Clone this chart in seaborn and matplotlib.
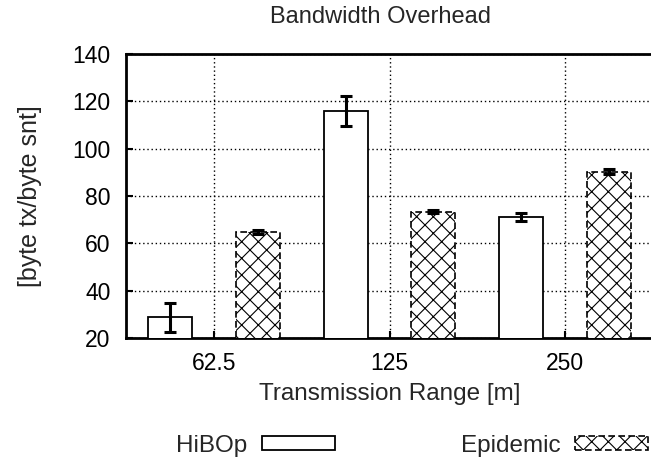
import matplotlib
matplotlib.use("Agg")
import matplotlib.pyplot as plt
import seaborn as sns
import pandas as pd
from matplotlib.patches import Patch

# Data
ranges = ["62.5", "125", "250"]
series = ["HiBOp", "Epidemic"]
hibop_mean = [28.7, 115.9, 71.2]
hibop_err = [6.0, 6.3, 1.8]
epidemic_mean = [64.9, 73.4, 90.3]
epidemic_err = [0.8, 0.7, 0.9]
yticks = [20, 40, 60, 80, 100, 120, 140]

df = pd.DataFrame({
    "range": ranges * 2,
    "protocol": [series[0]] * 3 + [series[1]] * 3,
    "overhead": hibop_mean + epidemic_mean,
    "err": hibop_err + epidemic_err,
})

sns.set_theme(style="white")
plt.rcParams["font.family"] = ["Liberation Sans", "DejaVu Sans"]
plt.rcParams["hatch.linewidth"] = 0.8
plt.rcParams["hatch.color"] = "black"

fig = plt.figure(figsize=(6.51, 4.70), dpi=100)
ax = fig.add_axes([126 / 651, 1 - 338 / 470, 527 / 651, 284 / 470])

sns.barplot(data=df, x="range", y="overhead", hue="protocol", order=ranges,
            hue_order=series, width=1.0, gap=0.5, errorbar=None,
            palette=["white", "white"], ax=ax, legend=False, zorder=3)

# Style bars and attach error bars at each bar centre
bars = [p for p in ax.patches if p.get_height() > 0]
bars.sort(key=lambda p: p.get_x())
lookup = {(r, s): (m, e) for r, s, m, e in zip(df["range"], df["protocol"], df["overhead"], df["err"])}
order_pairs = [(r, s) for r in ranges for s in series]
for patch, (r, s) in zip(bars, order_pairs):
    patch.set_edgecolor("black")
    patch.set_facecolor("white")
    if s == "Epidemic":
        patch.set_hatch("xx")
        patch.set_linestyle((0, (4, 2)))
        patch.set_linewidth(1.2)
    else:
        patch.set_linewidth(1.3)
    m, e = lookup[(r, s)]
    cx = patch.get_x() + patch.get_width() / 2
    ax.errorbar(cx, m, yerr=e, fmt="none", ecolor="black", elinewidth=2.2,
                capsize=4, capthick=2.2, zorder=5)

ax.set_xlim(-0.5, 2.5)
ax.set_ylim(20, 140)
ax.set_yticks(yticks)
ax.set_xticks(range(len(ranges)))
ax.set_xticklabels(ranges)

ax.grid(True, which="major", axis="both", color="black", linestyle=(0, (1, 2)),
        linewidth=1.0, zorder=0)
ax.set_axisbelow(True)
for side in ["left", "bottom", "top", "right"]:
    ax.spines[side].set_color("black")
    ax.spines[side].set_linewidth(2.0)
    ax.spines[side].set_visible(True)

ax.tick_params(axis="both", direction="in", length=5, width=1.5, colors="black",
               labelsize=16.5, left=True, bottom=True)
ax.tick_params(axis="y", pad=11)
ax.tick_params(axis="x", pad=10)

ax.set_xlabel("Transmission Range [m]", fontsize=17.5, labelpad=6)
ax.set_ylabel("[byte tx/byte snt]", fontsize=18, labelpad=22)
fig.text(0.585, 0.963, "Bandwidth Overhead", ha="center", va="center", fontsize=17)

handles = [
    Patch(facecolor="white", edgecolor="black", linewidth=1.3, label="HiBOp"),
    Patch(facecolor="white", edgecolor="black", linewidth=1.2, hatch="xx",
          linestyle=(0, (4, 2)), label="Epidemic"),
]
ax.legend(handles=handles, ncol=2, markerfirst=False, frameon=False,
          loc="center left", bbox_to_anchor=(176 / 651, 1 - 446 / 470),
          bbox_transform=fig.transFigure, fontsize=17.5, handlelength=3.0,
          handleheight=0.5, handletextpad=0.6, columnspacing=5.2,
          borderaxespad=0, borderpad=0)

fig.savefig("out.png", dpi=100)
